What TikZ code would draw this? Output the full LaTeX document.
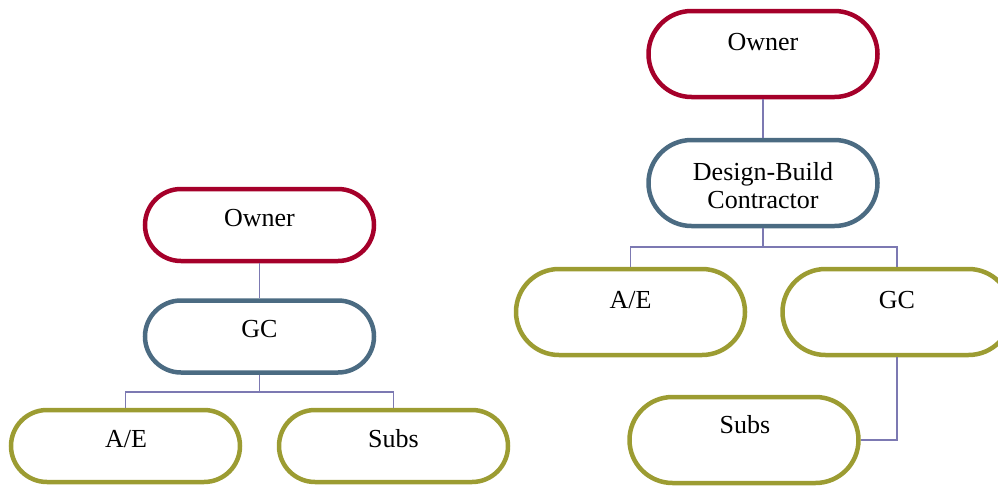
\documentclass[tikz,border=0pt]{standalone}
\usepackage{fontspec}
\usetikzlibrary{shapes.misc}
\setmainfont{Liberation Serif}
\definecolor{ownred}{HTML}{A5002A}
\definecolor{gcblue}{HTML}{4B6B82}
\definecolor{subolive}{HTML}{9C9C32}
\definecolor{linkc}{HTML}{7C79B2}
\begin{document}
\begin{tikzpicture}[x=1pt,y=-1pt,
  box/.style={draw, line width=4.5pt, fill=white, rounded rectangle, rounded rectangle arc length=180, minimum width=229pt, inner sep=0pt},
  sbox/.style={box, minimum height=72pt},
  tbox/.style={box, minimum height=86pt},
  lbl/.style={anchor=base, font=\fontsize{26}{29}\selectfont, align=center, inner sep=0pt},
  link/.style={draw=linkc, line width=1.4pt}]
\useasboundingbox (0,0) rectangle (998,485);
% left diagram
\node[sbox, draw=ownred] (lo) at (259.5,225) {};
\node[sbox, draw=gcblue] (lg) at (259.5,336.5) {};
\node[sbox, draw=subolive] (la) at (125.5,446) {};
\node[sbox, draw=subolive] (ls) at (393.5,446) {};
\node[lbl] (lot) at (259.5,226) {Owner};
\node[lbl] (lgt) at (259.5,337) {GC};
\node[lbl] (lat) at (126,447) {A/E};
\node[lbl] (lst) at (393.5,447) {Subs};
\coordinate (lj) at (259.5,392);
\draw[link] (lo.south) -- (lg.north);
\draw[link] (lg.south) -- (lj);
\draw[link] (la.north) |- (lj) -| (ls.north);
% right diagram
\node[tbox, draw=ownred] (ro) at (763,54) {};
\node[tbox, draw=gcblue] (rd) at (763,183) {};
\node[tbox, draw=subolive] (ra) at (630.5,312) {};
\node[tbox, draw=subolive] (rg) at (897,312) {};
\node[tbox, draw=subolive] (rs) at (744,440) {};
\node[lbl] (rot) at (763,50) {Owner};
\node[lbl] (rdt) at (763,180) {Design-Build};
\node[lbl] (rdt2) at (763,208) {Contractor};
\node[lbl] (rat) at (630.5,308) {A/E};
\node[lbl] (rgt) at (897,308) {GC};
\node[lbl] (rst) at (745,433) {Subs};
\coordinate (rj) at (763,247);
\draw[link] (ro.south) -- (rd.north);
\draw[link] (rd.south) -- (rj);
\draw[link] (ra.north) |- (rj) -| (rg.north);
\draw[link] (rg.south) |- (rs.east);
\end{tikzpicture}
\end{document}
